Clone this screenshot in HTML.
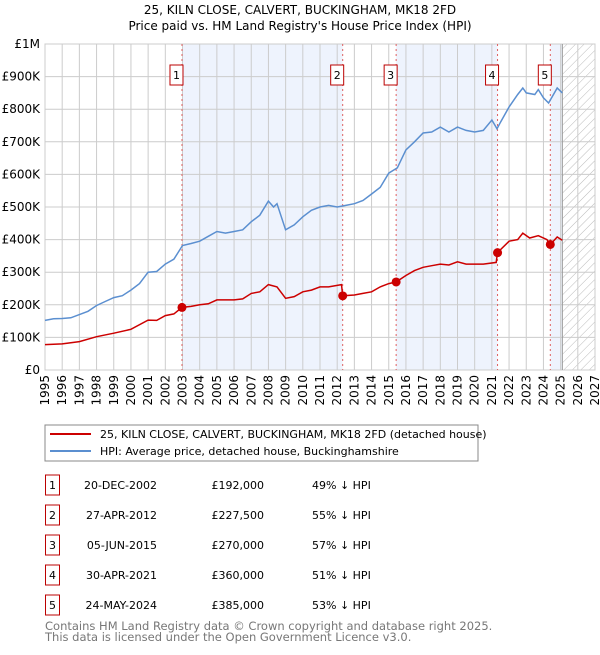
<!DOCTYPE html>
<html><head><meta charset="utf-8"><style>
body{margin:0;background:#fff;font-family:"Liberation Sans","DejaVu Sans",sans-serif;}
svg text{font-family:"DejaVu Sans","Liberation Sans",sans-serif;}
</style></head><body>
<svg id="c" width="600" height="650" viewBox="0 0 600 650" xmlns="http://www.w3.org/2000/svg">
<defs><pattern id="hatch" width="6" height="6" patternUnits="userSpaceOnUse" patternTransform="rotate(45)"><line x1="0" y1="0" x2="0" y2="6" stroke="#bbb" stroke-width="1"/></pattern></defs>
<text x="300" y="14" text-anchor="middle" font-size="12">25, KILN CLOSE, CALVERT, BUCKINGHAM, MK18 2FD</text>
<text x="300" y="30" text-anchor="middle" font-size="12">Price paid vs. HM Land Registry's House Price Index (HPI)</text>
<g id="plot"></g>
<rect x="45" y="425" width="433" height="36" fill="#fff" stroke="#888"/>
<line x1="50" y1="434" x2="91" y2="434" stroke="#cc0000" stroke-width="2"/>
<text x="100" y="438" font-size="11">25, KILN CLOSE, CALVERT, BUCKINGHAM, MK18 2FD (detached house)</text>
<line x1="50" y1="451" x2="91" y2="451" stroke="#5b8fd0" stroke-width="2"/>
<text x="100" y="455" font-size="11">HPI: Average price, detached house, Buckinghamshire</text>
<g id="table"></g>
<text x="45" y="630" font-size="11.5" fill="#777">Contains HM Land Registry data © Crown copyright and database right 2025.</text>
<text x="45" y="641" font-size="11.5" fill="#777">This data is licensed under the Open Government Licence v3.0.</text>
</svg>
<script>
const hpiYears=[1995,1995.5,1996,1996.5,1997,1997.5,1998,1998.5,1999,1999.5,2000,2000.5,2001,2001.5,2002,2002.5,2003,2003.5,2004,2004.5,2005,2005.5,2006,2006.5,2007,2007.5,2008,2008.3,2008.5,2009,2009.5,2010,2010.5,2011,2011.5,2012,2012.5,2013,2013.5,2014,2014.5,2015,2015.5,2016,2016.5,2017,2017.5,2018,2018.5,2019,2019.5,2020,2020.5,2021,2021.3,2021.5,2022,2022.5,2022.8,2023,2023.5,2023.7,2024,2024.3,2024.8,2025.1];
const hpiValues=[152,157,158,160,170,180,198,210,222,228,245,265,300,302,325,340,382,388,395,410,425,420,425,430,455,475,518,500,510,430,445,470,490,500,505,500,505,510,520,540,560,604,620,675,700,727,730,745,730,745,735,730,735,767,740,760,807,845,865,850,845,860,835,819,865,850];
const priceYears=[1995,1996,1997,1998,1999,2000,2001,2001.5,2002,2002.5,2002.97,2003.5,2004,2004.5,2005,2006,2006.5,2007,2007.5,2008,2008.5,2009,2009.5,2010,2010.5,2011,2011.5,2012.25,2012.32,2013,2013.5,2014,2014.5,2015,2015.43,2016,2016.5,2017,2017.5,2018,2018.5,2019,2019.5,2020,2020.5,2021.25,2021.33,2022,2022.5,2022.8,2023.2,2023.7,2024.2,2024.4,2024.8,2025.1];
const priceValues=[78,80,87,102,113,125,153,152,167,172,192,195,200,203,215,215,218,235,240,262,255,220,225,240,245,255,255,262,227.5,230,235,240,255,265,270,290,305,315,320,325,322,332,325,325,325,330,360,395,400,420,405,412,400,385,408,398];
const saleLabels=["1","2","3","4","5"];
const saleYears=[2002.97,2012.32,2015.43,2021.33,2024.4];
const saleValues=[192,227.5,270,360,385];
const saleDates=["20-DEC-2002","27-APR-2012","05-JUN-2015","30-APR-2021","24-MAY-2024"];
const salePrices=["£192,000","£227,500","£270,000","£360,000","£385,000"];
const salePcts=["49% ↓ HPI","55% ↓ HPI","57% ↓ HPI","51% ↓ HPI","53% ↓ HPI"];
const yTicks=[0,100,200,300,400,500,600,700,800,900,1000];
const yTickLabels=["£0","£100K","£200K","£300K","£400K","£500K","£600K","£700K","£800K","£900K","£1M"];
const xTicks=[1995,1996,1997,1998,1999,2000,2001,2002,2003,2004,2005,2006,2007,2008,2009,2010,2011,2012,2013,2014,2015,2016,2017,2018,2019,2020,2021,2022,2023,2024,2025,2026,2027];
const dataEnd=2025.1;

const X0=45,X1=595,Y0=370,Y1=44;
const xs=y=>X0+(y-1995)/(2027-1995)*(X1-X0);
const ys=v=>Y0-v/1000*(Y0-Y1);
const NS="http://www.w3.org/2000/svg";
const plot=document.getElementById('plot');
function mk(tag,attrs,parent){const e=document.createElementNS(NS,tag);for(const k in attrs)e.setAttribute(k,attrs[k]);(parent||plot).appendChild(e);return e;}

// shaded bands
const bands=[[saleYears[0],saleYears[1]],[saleYears[2],saleYears[3]],[saleYears[4],dataEnd]];
bands.forEach(b=>{const r=mk('rect',{x:xs(b[0]),y:Y1,width:xs(b[1])-xs(b[0]),height:Y0-Y1,fill:'#eef3fd'});

});
const h=mk('rect',{x:xs(dataEnd),y:Y1,width:X1-xs(dataEnd),height:Y0-Y1,fill:'url(#hatch)'});


// grid
yTicks.forEach((t,i)=>{const l=mk('line',{x1:X0,x2:X1,y1:ys(t),y2:ys(t),stroke:'#ccc','stroke-width':1});


const tx=mk('text',{x:40,y:ys(t)+4,'text-anchor':'end','font-size':12});tx.textContent=yTickLabels[i];

});
xTicks.forEach(t=>{const l=mk('line',{x1:xs(t),x2:xs(t),y1:Y1,y2:Y0,stroke:'#ccc','stroke-width':1});


const tx=mk('text',{x:0,y:0,'text-anchor':'end','font-size':12,transform:`translate(${xs(t)+4},${Y0+5}) rotate(-90)`});tx.textContent=t;

});
const bd=mk('rect',{x:X0,y:Y1,width:X1-X0,height:Y0-Y1,fill:'none',stroke:'#ccc'});


const el=mk('line',{x1:xs(dataEnd),x2:xs(dataEnd),y1:Y1,y2:Y0,stroke:'#999'});


// sale lines & markers
saleYears.forEach((y,i)=>{const l=mk('line',{x1:xs(y),x2:xs(y),y1:Y1,y2:Y0,stroke:'#e06060','stroke-dasharray':'2,3','stroke-width':1});


const g=mk('g',{});


mk('rect',{x:xs(y)-12,y:65,width:13,height:20,fill:'#fff',stroke:'#b00'},g);
const t=mk('text',{x:xs(y)-5.5,y:79,'text-anchor':'middle','font-size':11},g);t.textContent=saleLabels[i];});
// series
function path(xa,va){return xa.map((x,i)=>(i?'L':'M')+xs(x).toFixed(1)+','+ys(va[i]).toFixed(1)).join('');}
const hp=mk('path',{d:path(hpiYears,hpiValues),fill:'none',stroke:'#5b8fd0','stroke-width':1.5});


const pp=mk('path',{d:path(priceYears,priceValues),fill:'none',stroke:'#cc0000','stroke-width':1.5});


saleYears.forEach((y,i)=>{const c=mk('circle',{cx:xs(y),cy:ys(saleValues[i]),r:4.5,fill:'#cc0000'});

});
// table
const tb=document.getElementById('table');
saleLabels.forEach((s,i)=>{const y=483+i*30;
const g=mk('g',{},tb);


mk('rect',{x:45.5,y:y-8,width:14,height:20,fill:'#fff',stroke:'#b00'},g);
const a=mk('text',{x:52.5,y:y+6,'text-anchor':'middle','font-size':11},g);a.textContent=s;
const b=mk('text',{x:157,y:y+6,'text-anchor':'end','font-size':11},g);b.textContent=saleDates[i];
const c=mk('text',{x:264,y:y+6,'text-anchor':'end','font-size':11},g);c.textContent=salePrices[i];
const d=mk('text',{x:312,y:y+6,'font-size':11},g);d.textContent=salePcts[i];});
</script>
</body></html>
